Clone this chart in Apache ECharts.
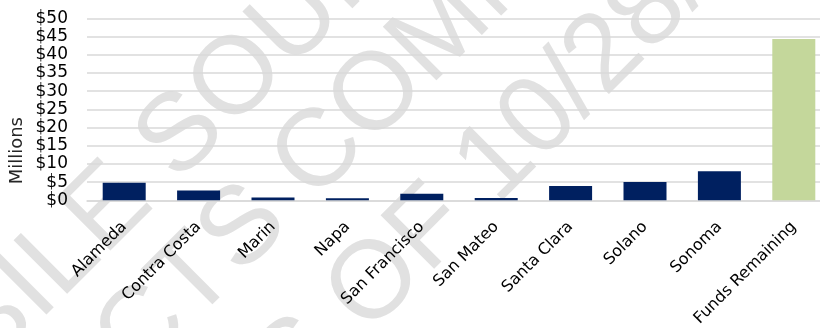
<!DOCTYPE html>
<html>
<head>
<meta charset="utf-8">
<script src="https://cdn.jsdelivr.net/npm/echarts@6/dist/echarts.min.js"></script>
<style>
  html, body { margin: 0; padding: 0; background: #fff; }
  #chart { width: 820px; height: 328px; }
</style>
</head>
<body>
<div id="chart"></div>
<script>
  // counties and remaining funds, in millions of dollars
  var categories = ['Alameda', 'Contra Costa', 'Marin', 'Napa', 'San Francisco',
    'San Mateo', 'Santa Clara', 'Solano', 'Sonoma', 'Funds Remaining'];
  var values = [4.8, 2.7, 0.8, 0.55, 1.8, 0.6, 3.9, 5.0, 8.0, 44.3];
  var yTicks = [0, 5, 10, 15, 20, 25, 30, 35, 40, 45, 50];
  var watermarkLines = ['MOBILE SOURCE', 'PROJECTS COMMITTED', 'AS OF 10/28/21'];

  var font = '"DejaVu Sans", sans-serif';
  var wmFont = '110px "Liberation Sans", sans-serif';
  var chart = echarts.init(document.getElementById('chart'));

  // watermark, drawn behind the grid; each line is pinned by one letter
  var ctx = document.createElement('canvas').getContext('2d');
  ctx.font = wmFont;
  var ang = Math.PI / 4;
  var wmAnchor = [
    { at: 7, cx: 182, cy: 136 },   // "S" of SOURCE
    { at: 9, cx: 320, cy: 154 },   // "C" of COMMITTED
    { at: 3, cx: 376, cy: 284 }    // "O" of OF
  ];
  var watermark = watermarkLines.map(function (t, i) {
    var a = wmAnchor[i];
    var pre = ctx.measureText(t.slice(0, a.at)).width;
    var ch = ctx.measureText(t.charAt(a.at)).width;
    var d = pre + ch / 2;
    return {
      type: 'text',
      x: a.cx - d * Math.cos(ang),
      y: a.cy + d * Math.sin(ang),
      rotation: ang,
      z: -10,
      silent: true,
      style: {
        text: t,
        fill: '#e1e1e1',
        font: wmFont,
        align: 'left',
        verticalAlign: 'middle'
      }
    };
  });

  var option = {
    animation: false,
    grid: { left: 87, top: 18.3, height: 182, width: 744, containLabel: false, outerBoundsMode: 'none' },
    graphic: watermark.concat([{
      type: 'text',
      left: 8,
      top: 117,
      rotation: Math.PI / 2,
      style: { text: 'Millions', fill: '#262626', font: '18px ' + font }
    }]),
    xAxis: {
      type: 'category',
      data: categories,
      axisLine: { lineStyle: { color: '#d9d9d9', width: 1.5 } },
      axisTick: { show: false },
      axisLabel: { rotate: 45, interval: 0, margin: 24, color: '#000', fontSize: 16, fontFamily: font }
    },
    yAxis: {
      type: 'value',
      min: yTicks[0],
      max: yTicks[yTicks.length - 1],
      interval: 5,
      axisLine: { show: false },
      axisTick: { show: false },
      splitLine: { lineStyle: { color: '#d9d9d9', width: 1.5 } },
      axisLabel: {
        margin: 19, color: '#000', fontSize: 17, fontFamily: font,
        formatter: function (v) { return '$' + v; }
      }
    },
    series: [{
      type: 'bar',
      data: values,
      barWidth: 43,
      itemStyle: {
        color: function (p) {
          return p.dataIndex === categories.length - 1 ? '#c4d79b' : '#002060';
        }
      }
    }]
  };
  chart.setOption(option);
</script>
</body>
</html>
